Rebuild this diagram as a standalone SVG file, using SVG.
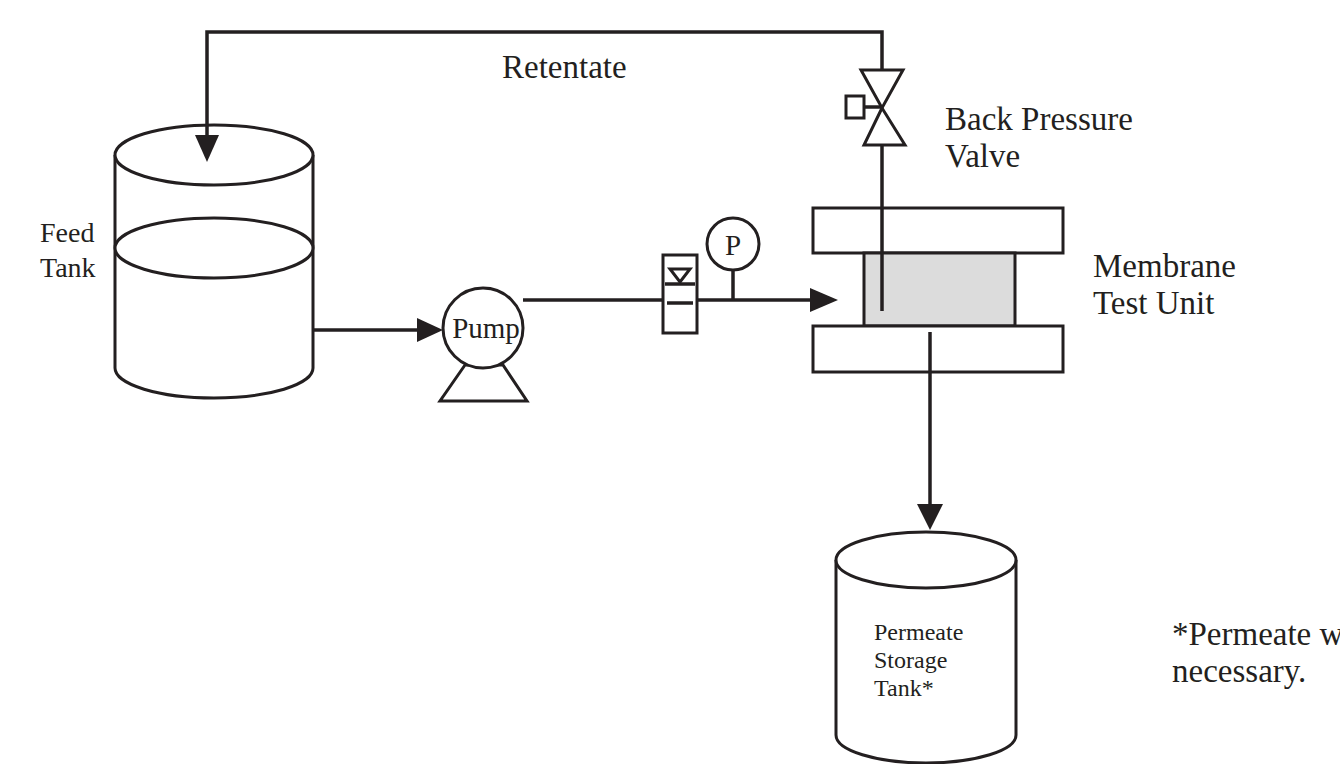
<svg xmlns="http://www.w3.org/2000/svg" width="1340" height="764" viewBox="0 0 1340 764">
<style>
.s{fill:#fff;stroke:#231f20;stroke-width:3}
.l{fill:none;stroke:#231f20;stroke-width:3.5}
.a{fill:#231f20}
text{font-family:"Liberation Serif",serif;fill:#231f20}
</style>
<rect width="1340" height="764" fill="#fff"/>
<g id="feed-tank">
<path class="s" d="M115,155 V368 A99,30 0 0 0 313,368 V155"/>
<ellipse class="s" cx="214" cy="155" rx="99" ry="30"/>
<ellipse class="s" cx="214" cy="248" rx="99" ry="30"/>
<text x="40" y="242" font-size="28">Feed</text>
<text x="40" y="277" font-size="28">Tank</text>
</g>
<g id="pump">
<polygon class="s" points="465,365 440,401 527,401 503,365"/>
<circle class="s" cx="483" cy="328" r="40"/>
<text x="486" y="338" font-size="29" text-anchor="middle">Pump</text>
</g>
<g id="flow-meter">
<rect class="s" x="663" y="255" width="34" height="78"/>
<polygon class="s" points="670,269 690,269 680,282" stroke-width="2.5"/>
<line class="l" x1="665" y1="284" x2="695" y2="284"/>
<line class="l" x1="667" y1="303" x2="693" y2="303"/>
</g>
<g id="pressure-gauge">
<circle class="s" cx="733" cy="244" r="26"/>
<text x="733" y="255" font-size="29" text-anchor="middle">P</text>
</g>
<g id="membrane">
<rect class="s" x="813" y="208" width="250" height="45"/>
<rect x="864" y="253" width="151" height="73" fill="#dcdcdc" stroke="#231f20" stroke-width="3"/>
<rect class="s" x="813" y="326" width="250" height="46"/>
<text x="1093" y="277" font-size="33">Membrane</text>
<text x="1093" y="314" font-size="33">Test Unit</text>
</g>
<g id="valve">
<polygon class="s" points="861,70 903,70 882,108"/>
<polygon class="s" points="882,108 864,145 905,145"/>
<rect class="s" x="846" y="96" width="18" height="22"/>
<line class="l" x1="864" y1="107" x2="882" y2="107"/>
<text x="945" y="130" font-size="33">Back Pressure</text>
<text x="945" y="167" font-size="33">Valve</text>
</g>
<g id="permeate-tank">
<path class="s" d="M836,560 V735 A90,28 0 0 0 1016,735 V560"/>
<ellipse class="s" cx="926" cy="560" rx="90" ry="28"/>
<text x="874" y="640" font-size="24">Permeate</text>
<text x="874" y="668" font-size="24">Storage</text>
<text x="874" y="696" font-size="24">Tank*</text>
</g>
<g id="connectors">
<polyline class="l" points="882,70 882,32 207,32 207,140"/>
<polygon class="a" points="195,135 219,135 207,162"/>
<line class="l" x1="882" y1="145" x2="882" y2="311"/>
<line class="l" x1="313" y1="330" x2="420" y2="330"/>
<polygon class="a" points="417,318 417,342 443,330"/>
<line class="l" x1="523" y1="300" x2="663" y2="300"/>
<line class="l" x1="697" y1="300" x2="815" y2="300"/>
<polygon class="a" points="810,288 810,312 838,300"/>
<line class="l" x1="733" y1="270" x2="733" y2="300"/>
<line class="l" x1="930" y1="332" x2="930" y2="508"/>
<polygon class="a" points="917,504 943,504 930,530"/>
</g>
<text x="502" y="78" font-size="33">Retentate</text>
<text x="1172" y="645" font-size="33">*Permeate w</text>
<text x="1172" y="682" font-size="33">necessary.</text>
</svg>
